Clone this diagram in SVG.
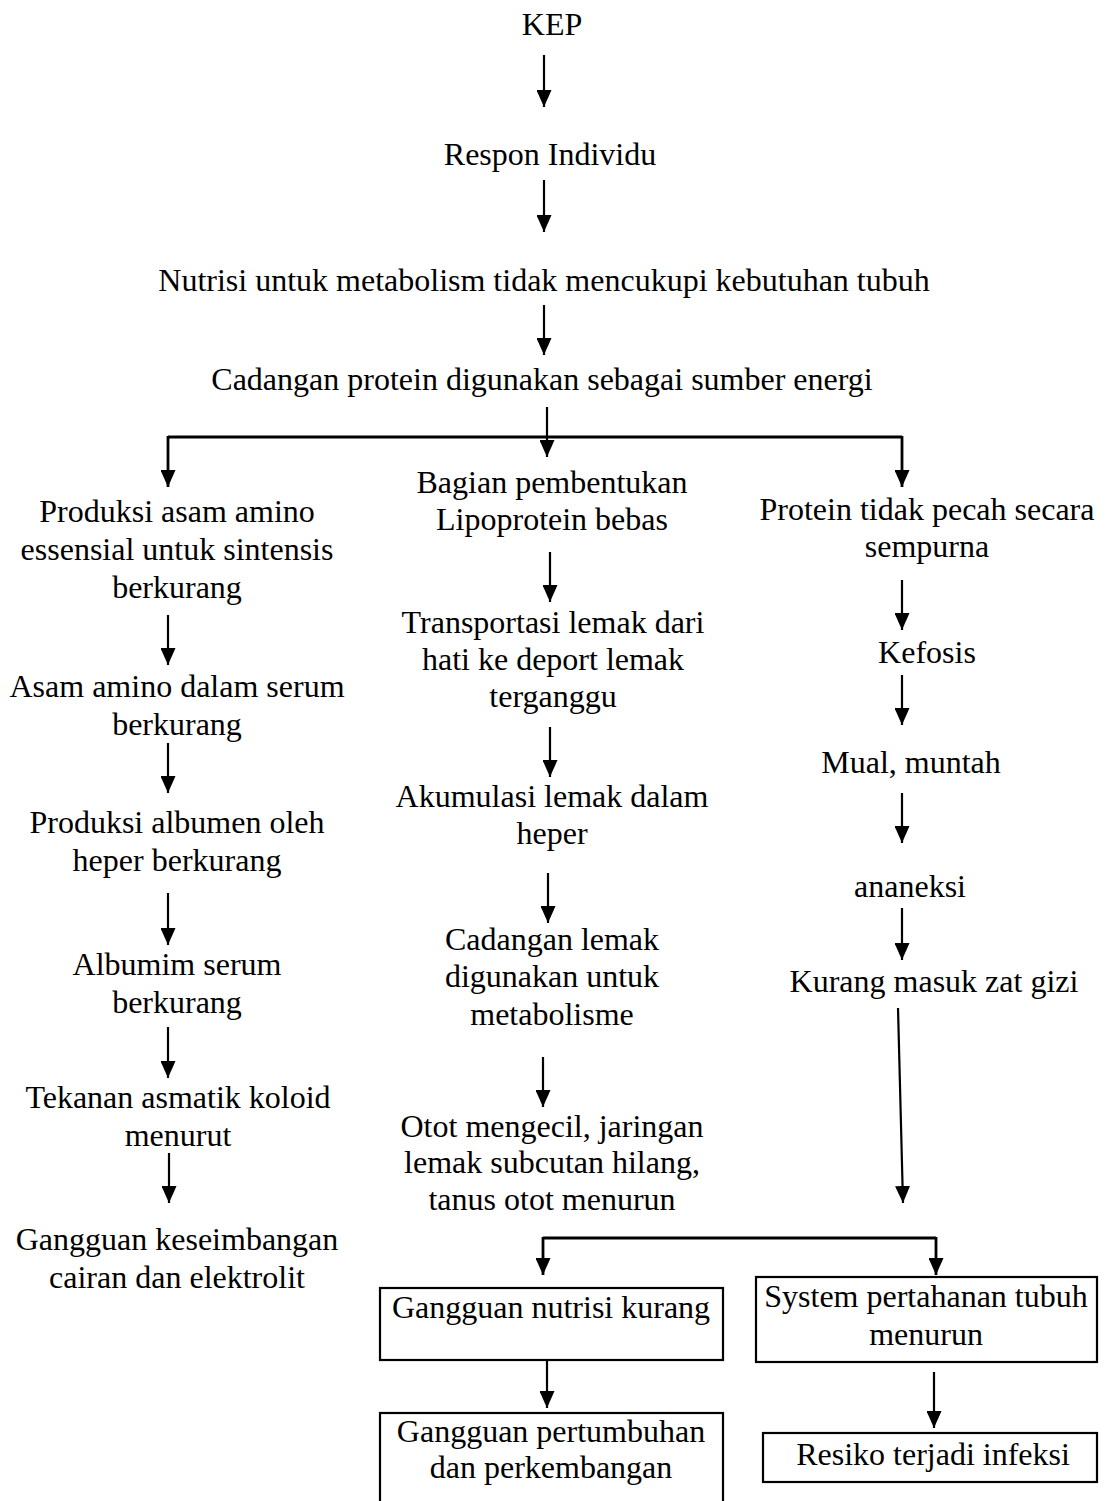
<svg xmlns="http://www.w3.org/2000/svg" width="1109" height="1501" viewBox="0 0 1109 1501">
<defs>
<marker id="ah" markerUnits="userSpaceOnUse" markerWidth="17" markerHeight="15" refX="17" refY="7.5" orient="auto"><path d="M0,0 L17,7.5 L0,15 z" fill="#000"/></marker>
<style>
text{font-family:"Liberation Serif","Times New Roman",serif;font-size:32px;fill:#000;text-anchor:middle}
.c line,.c polyline{stroke:#000;stroke-width:2.2;fill:none}
.a{marker-end:url(#ah)}
rect{fill:#fff;stroke:#000;stroke-width:2.2}
</style>
</defs>
<rect x="0" y="0" width="1109" height="1501" style="stroke:none;fill:#fff"/>
<g class="c" id="connectors">
<line class="a" x1="544" y1="55" x2="544" y2="107"/>
<line class="a" x1="544" y1="180" x2="544" y2="232"/>
<line class="a" x1="544" y1="305" x2="544" y2="355"/>
<line class="a" x1="547" y1="407" x2="547" y2="457"/>
<polyline points="168,487 168,437 902,437 902,487" style="stroke:none"/>
<line x1="168" y1="437" x2="902" y2="437" style="stroke-width:2.8"/>
<line class="a" x1="168" y1="436" x2="168" y2="487" style="stroke-width:2.8"/>
<line class="a" x1="902" y1="436" x2="902" y2="487" style="stroke-width:2.8"/>
<line class="a" x1="168" y1="615" x2="168" y2="665"/>
<line class="a" x1="168" y1="743" x2="168" y2="793"/>
<line class="a" x1="168" y1="893" x2="168" y2="945"/>
<line class="a" x1="168" y1="1027" x2="168" y2="1078"/>
<line class="a" x1="169" y1="1153" x2="169" y2="1203"/>
<line class="a" x1="550" y1="552" x2="550" y2="602"/>
<line class="a" x1="550" y1="727" x2="550" y2="777"/>
<line class="a" x1="548" y1="873" x2="548" y2="923"/>
<line class="a" x1="543" y1="1057" x2="543" y2="1107"/>
<line class="a" x1="902" y1="580" x2="902" y2="630"/>
<line class="a" x1="902" y1="675" x2="902" y2="725"/>
<line class="a" x1="902" y1="793" x2="902" y2="843"/>
<line class="a" x1="902" y1="908" x2="902" y2="960"/>
<line class="a" x1="898" y1="1008" x2="903" y2="1203"/>
<line x1="543" y1="1238" x2="936" y2="1238" style="stroke-width:2.8"/>
<line class="a" x1="543" y1="1237" x2="543" y2="1275" style="stroke-width:2.8"/>
<line class="a" x1="936" y1="1237" x2="936" y2="1275" style="stroke-width:2.8"/>
<line class="a" x1="547" y1="1360" x2="547" y2="1408"/>
<line class="a" x1="934" y1="1372" x2="934" y2="1428"/>
</g>
<g id="n-kep"><text x="552" y="35">KEP</text></g>
<g id="n-respon"><text x="550" y="165">Respon Individu</text></g>
<g id="n-nutrisi"><text x="544" y="291">Nutrisi untuk metabolism tidak mencukupi kebutuhan tubuh</text></g>
<g id="n-cadangan-protein"><text x="542" y="390">Cadangan protein digunakan sebagai sumber energi</text></g>
<g id="n-produksi-asam"><text x="177" y="522">Produksi asam amino</text><text x="177" y="560">essensial untuk sintensis</text><text x="177" y="598">berkurang</text></g>
<g id="n-asam-serum"><text x="177" y="697">Asam amino dalam serum</text><text x="177" y="735">berkurang</text></g>
<g id="n-albumen"><text x="177" y="833">Produksi albumen oleh</text><text x="177" y="871">heper berkurang</text></g>
<g id="n-albumim"><text x="177" y="975">Albumim serum</text><text x="177" y="1013">berkurang</text></g>
<g id="n-tekanan"><text x="178" y="1108">Tekanan asmatik koloid</text><text x="178" y="1146">menurut</text></g>
<g id="n-cairan"><text x="177" y="1250">Gangguan keseimbangan</text><text x="177" y="1288">cairan dan elektrolit</text></g>
<g id="n-lipoprotein"><text x="552" y="493">Bagian pembentukan</text><text x="552" y="530">Lipoprotein bebas</text></g>
<g id="n-transportasi"><text x="553" y="633">Transportasi lemak dari</text><text x="553" y="670">hati ke deport lemak</text><text x="553" y="707">terganggu</text></g>
<g id="n-akumulasi"><text x="552" y="807">Akumulasi lemak dalam</text><text x="552" y="844">heper</text></g>
<g id="n-cadangan-lemak"><text x="552" y="950">Cadangan lemak</text><text x="552" y="987">digunakan untuk</text><text x="552" y="1025">metabolisme</text></g>
<g id="n-otot"><text x="552" y="1137">Otot mengecil, jaringan</text><text x="552" y="1173">lemak subcutan hilang,</text><text x="552" y="1210">tanus otot menurun</text></g>
<g id="n-protein"><text x="927" y="520">Protein tidak pecah secara</text><text x="927" y="557">sempurna</text></g>
<g id="n-kefosis"><text x="927" y="663">Kefosis</text></g>
<g id="n-mual"><text x="911" y="773">Mual, muntah</text></g>
<g id="n-ananeksi"><text x="910" y="897">ananeksi</text></g>
<g id="n-kurang"><text x="934" y="992">Kurang masuk zat gizi</text></g>
<g id="n-gangguan-nutrisi"><rect x="380" y="1288" width="343" height="72"/><text x="551" y="1318">Gangguan nutrisi kurang</text></g>
<g id="n-sistem"><rect x="756" y="1277" width="341" height="85"/><text x="926" y="1307">System pertahanan tubuh</text><text x="926" y="1345">menurun</text></g>
<g id="n-pertumbuhan"><rect x="380" y="1413" width="343" height="100"/><text x="551" y="1442">Gangguan pertumbuhan</text><text x="551" y="1478">dan perkembangan</text></g>
<g id="n-infeksi"><rect x="763" y="1433" width="334" height="49"/><text x="933" y="1465">Resiko terjadi infeksi</text></g>
</svg>
